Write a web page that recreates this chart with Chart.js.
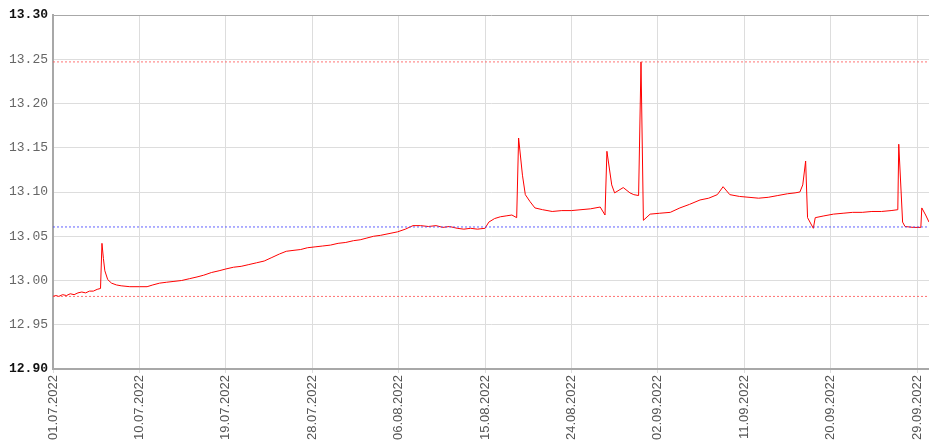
<!DOCTYPE html>
<html>
<head>
<meta charset="utf-8">
<script src="https://cdn.jsdelivr.net/npm/chart.js@4.4.0/dist/chart.umd.min.js"></script>
<style>
  html, body { margin: 0; padding: 0; background: #fff; }
  #wrap { width: 929px; height: 445px; }
</style>
</head>
<body>
<div id="wrap"><canvas id="chart"></canvas></div>
<script>
// days since 01.07.2022 and the reading for each
var dayOffsets = [
  0.0, 0.3, 0.6, 1.0, 1.4, 1.8, 2.2, 2.6, 3.0, 3.4, 3.8, 4.2, 4.6, 4.95,
  5.1, 5.25, 5.4, 5.7, 6.1, 6.6, 7.1, 8.0, 9.0, 9.8,
  10.4, 11.1, 11.8, 12.6, 13.4, 14.2, 15.0, 15.7, 16.5, 17.3,
  18.0, 18.8, 19.6, 20.4, 21.2, 22.0, 22.8, 23.6, 24.3, 25.0,
  25.8, 26.5, 27.3, 28.1, 28.9, 29.7, 30.5, 31.3, 32.0, 32.7,
  33.4, 34.1, 35.0, 35.9, 36.7, 37.5, 38.3, 39.1, 39.9, 40.6,
  41.3, 42.1, 42.8, 43.5, 44.2, 45.0, 45.4, 46.0, 46.6, 47.2,
  47.8, 48.3, 48.5, 48.9, 49.2, 49.7, 50.2, 51.0, 52.0, 53.0,
  54.0, 55.0, 56.0, 57.0, 57.5, 57.7, 58.2, 58.5, 59.4, 60.1,
  60.5, 61.0, 61.25, 61.5, 62.2, 63.2, 64.3, 65.3, 66.3, 67.4,
  68.3, 69.2, 69.8, 70.5, 71.5, 72.5, 73.5, 74.5, 75.5, 76.5,
  77.3, 77.8, 78.1, 78.4, 78.6, 79.2, 79.4, 80.3, 81.3, 82.3,
  83.3, 84.3, 85.3, 86.3, 87.3, 88.0, 88.1, 88.5, 88.75, 89.6,
  90.4, 90.5, 90.9, 91.25
];
var values = [
  12.982, 12.983, 12.982, 12.984, 12.983, 12.985, 12.984, 12.986, 12.987, 12.986, 12.988, 12.988, 12.990, 12.991,
  13.042, 13.025, 13.011, 13.001, 12.997, 12.995, 12.994, 12.993, 12.993, 12.993,
  12.995, 12.997, 12.998, 12.999, 13.000, 13.002, 13.004, 13.006, 13.009, 13.011,
  13.013, 13.015, 13.016, 13.018, 13.020, 13.022, 13.026, 13.030, 13.033, 13.034,
  13.035, 13.037, 13.038, 13.039, 13.040, 13.042, 13.043, 13.045, 13.046, 13.048,
  13.050, 13.051, 13.053, 13.055, 13.058, 13.062, 13.062, 13.061, 13.062, 13.060,
  13.061, 13.059, 13.058, 13.059, 13.058, 13.059, 13.066, 13.070, 13.072, 13.073,
  13.074, 13.071, 13.161, 13.119, 13.097, 13.089, 13.082, 13.080, 13.078, 13.079,
  13.079, 13.080, 13.081, 13.083, 13.074, 13.146, 13.108, 13.099, 13.105, 13.099,
  13.097, 13.096, 13.247, 13.068, 13.075, 13.076, 13.077, 13.082, 13.086, 13.091,
  13.093, 13.097, 13.106, 13.097, 13.095, 13.094, 13.093, 13.094, 13.096, 13.098,
  13.099, 13.100, 13.108, 13.135, 13.071, 13.059, 13.071, 13.073, 13.075, 13.076,
  13.077, 13.077, 13.078, 13.078, 13.079, 13.080, 13.154, 13.066, 13.061, 13.060,
  13.060, 13.082, 13.074, 13.066
];
var maxLevel = 13.247;
var avgLevel = 13.0605;
var minLevel = 12.982;
var yTicks = [12.90, 12.95, 13.00, 13.05, 13.10, 13.15, 13.20, 13.25, 13.30];
var startDate = new Date(2022, 6, 1);

var lastDay = dayOffsets[dayOffsets.length - 1];

function levelLine(v, color) {
  return {
    data: [{ x: 0, y: v }, { x: lastDay, y: v }],
    borderColor: color,
    borderWidth: 1,
    borderDash: [2, 2],
    pointRadius: 0,
    fill: false
  };
}

function fmtDate(d) {
  var dt = new Date(startDate.getFullYear(), startDate.getMonth(), startDate.getDate() + Math.round(d));
  var dd = ('0' + dt.getDate()).slice(-2);
  var mm = ('0' + (dt.getMonth() + 1)).slice(-2);
  return dd + '.' + mm + '.' + dt.getFullYear();
}

function isEnd(v) {
  return v === yTicks[0] || v === yTicks[yTicks.length - 1];
}

var ctx = document.getElementById('chart').getContext('2d');
var myChart = new Chart(ctx, {
  type: 'line',
  data: {
    datasets: [
      levelLine(maxLevel, 'rgba(255, 80, 80, 0.8)'),
      levelLine(avgLevel, 'rgba(70, 70, 255, 0.85)'),
      levelLine(minLevel, 'rgba(255, 80, 80, 0.8)'),
      {
        data: dayOffsets.map(function (d, i) { return { x: d, y: values[i] }; }),
        borderColor: '#ff0000',
        borderWidth: 1,
        pointRadius: 0,
        tension: 0,
        fill: false
      }
    ]
  },
  options: {
    responsive: true,
    maintainAspectRatio: false,
    animation: false,
    layout: { padding: { top: 15, right: 0, left: 0, bottom: 0 } },
    plugins: { legend: { display: false }, tooltip: { enabled: false } },
    scales: {
      x: {
        type: 'linear',
        min: 0,
        max: lastDay,
        afterFit: function (scale) {
          scale.height = 76;
          scale.paddingLeft = 0;
          scale.paddingRight = 0;
        },
        border: { color: '#a8a8a8', width: 2 },
        grid: { color: '#dddddd', lineWidth: 1, tickLength: 4 },
        ticks: {
          stepSize: 9,
          includeBounds: false,
          autoSkip: false,
          maxRotation: 90,
          minRotation: 90,
          padding: 2,
          color: '#555',
          font: { family: 'Liberation Sans, Arial, sans-serif', size: 13 },
          callback: function (v) { return fmtDate(v); }
        }
      },
      y: {
        min: yTicks[0],
        max: yTicks[yTicks.length - 1],
        afterFit: function (scale) { scale.width = 53; },
        afterBuildTicks: function (scale) {
          scale.ticks = yTicks.map(function (v) { return { value: v }; });
        },
        border: { color: '#a8a8a8', width: 2 },
        grid: {
          color: function (c) { return c.tick && c.tick.value === yTicks[yTicks.length - 1] ? '#a8a8a8' : '#dddddd'; },
          lineWidth: 1,
          drawTicks: false
        },
        ticks: {
          padding: 5,
          color: function (c) { return isEnd(c.tick.value) ? '#111' : '#666'; },
          font: function (c) {
            var b = c.tick ? isEnd(c.tick.value) : false;
            return { family: 'Liberation Mono, Courier New, monospace', size: 13, weight: b ? 'bold' : 'normal' };
          },
          callback: function (v) { return Number(v).toFixed(2); }
        }
      }
    }
  }
});
</script>
</body>
</html>
